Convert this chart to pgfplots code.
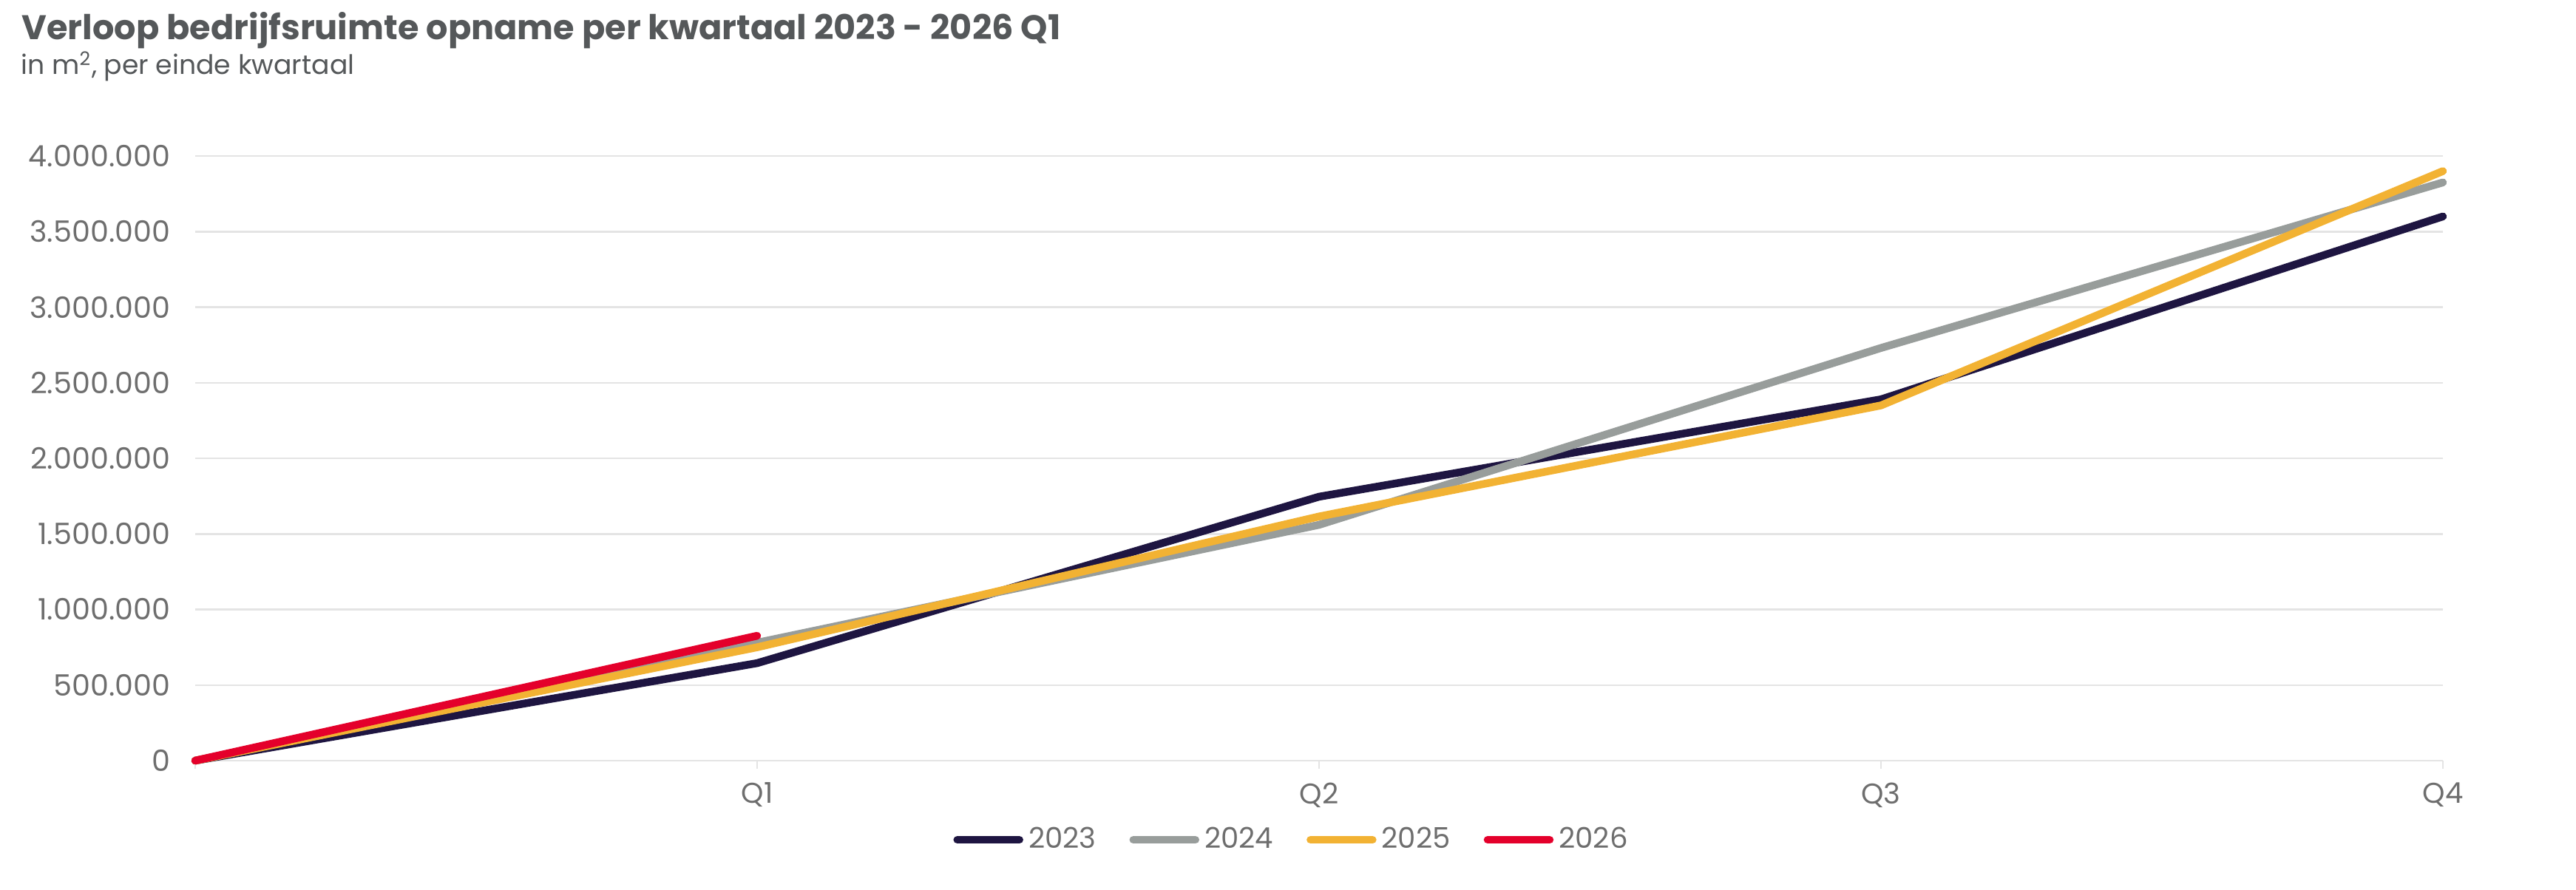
\documentclass[border=0pt]{standalone}
\usepackage{fontspec}
\setmainfont{Poppins}
\usepackage{pgfplots}
\pgfplotsset{compat=1.18}
\definecolor{c23}{HTML}{1E1541}
\definecolor{c24}{HTML}{989D9B}
\definecolor{c25}{HTML}{F2B233}
\definecolor{c26}{HTML}{E4002B}
\definecolor{gridc}{HTML}{E4E4E4}
\definecolor{tickgray}{HTML}{6E6E6E}
\definecolor{titlegray}{HTML}{55585A}
\begin{document}
\begin{tikzpicture}
\useasboundingbox (0,0) rectangle (348.4mm,120.3mm);
\node[anchor=base west, inner sep=0pt, text=titlegray, font=\fontsize{13.15}{16}\selectfont\bfseries] at (2.9mm,114.9mm) {Verloop bedrijfsruimte opname per kwartaal 2023 - 2026 Q1};
\node[anchor=base west, inner sep=0pt, text=titlegray, font=\fontsize{10.3}{12}\selectfont] at (2.8mm,110.2mm) {in m\textsuperscript{2}, per einde kwartaal};
\begin{axis}[
  at={(26.4mm,17.4mm)}, anchor=south west,
  scale only axis, width=304mm, height=81.8mm,
  xmin=0, xmax=4, ymin=0, ymax=4000000,
  axis line style={draw=none},
  xtick={0,1,2,3,4}, xticklabels={,Q1,Q2,Q3,Q4},
  xtick pos=bottom, ytick pos=left,
  ytick={0,500000,1000000,1500000,2000000,2500000,3000000,3500000,4000000},
  yticklabels={0,500.000,1.000.000,1.500.000,2.000.000,2.500.000,3.000.000,3.500.000,4.000.000},
  scaled ticks=false,
  ymajorgrids, major grid style={draw=gridc, line width=0.25mm},
  y tick style={draw=none},
  x tick style={draw=gridc, line width=0.2mm},
  tick align=outside, major tick length=1.1mm,
  tick label style={text=tickgray, font=\fontsize{11}{13}\selectfont},
  yticklabel style={anchor=east, inner sep=0pt, xshift=-2.2mm, font=\fontsize{11.3}{13}\selectfont},
  xticklabel style={anchor=north, inner sep=0pt, yshift=-1.8mm},
  clip=false,
  legend columns=4,
  legend style={draw=none, fill=none, at={(0.4885,-0.131)}, anchor=center,
    font=\fontsize{11}{13}\selectfont, text=tickgray,
    /tikz/every even column/.append style={column sep=3.8mm}},
  legend image code/.code={\draw[#1, line width=1.05mm, line cap=round] (0mm,0mm) -- (8.4mm,0mm);},
  every axis plot/.append style={line width=1.05mm, line cap=round, line join=round, mark=none},
]
\addplot[c23] coordinates {(0,0) (1,645000) (2,1746000) (3,2390000) (4,3600000)};
\addlegendentry{2023}
\addplot[c24] coordinates {(0,0) (1,780000) (2,1560000) (3,2730000) (4,3825000)};
\addlegendentry{2024}
\addplot[c25] coordinates {(0,0) (1,750000) (2,1615000) (3,2350000) (4,3900000)};
\addlegendentry{2025}
\addplot[c26] coordinates {(0,0) (1,826000)};
\addlegendentry{2026}
\end{axis}
\end{tikzpicture}
\end{document}
